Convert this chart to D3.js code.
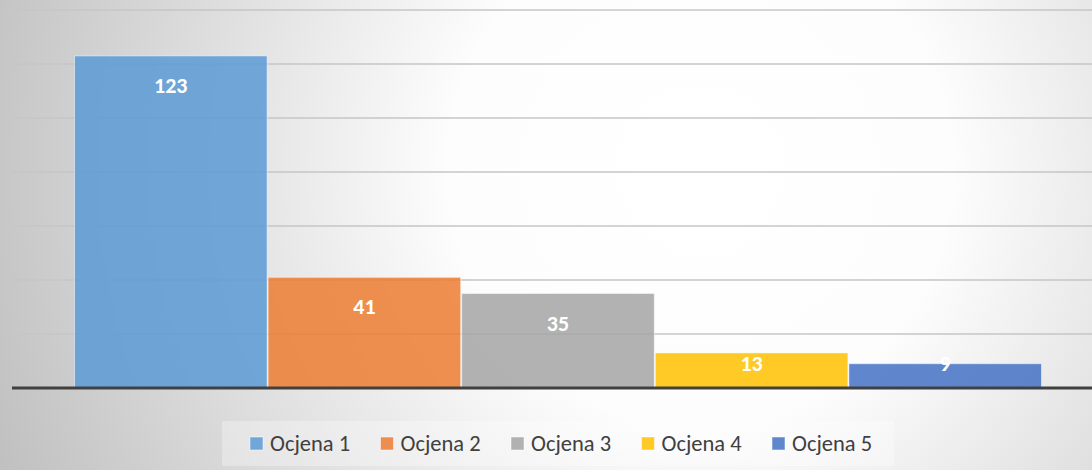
<!DOCTYPE html>
<html>
<head>
<meta charset="utf-8">
<script src="https://cdn.jsdelivr.net/npm/d3@7"></script>
<style>
  html, body { margin: 0; padding: 0; }
  body { width: 1092px; height: 470px; overflow: hidden; }
  text { font-family: Carlito, Calibri, Lato, "Open Sans", sans-serif; }
</style>
</head>
<body>
<div class="container"></div>
<script>
var series = ["Ocjena 1", "Ocjena 2", "Ocjena 3", "Ocjena 4", "Ocjena 5"];
var values = [123, 41, 35, 13, 9];
var colors = ["#5b9bd5", "#ed7d31", "#a5a5a5", "#ffc000", "#4472c4"];
var gridTicks = [0, 20, 40, 60, 80, 100, 120, 140];

var W = 1092, H = 470;

var svg = d3.select('.container').append('svg')
  .attr("width", W)
  .attr("height", H);

// background: light centre, gray edges
var grad = svg.append("defs").append("radialGradient")
  .attr("id", "bg")
  .attr("gradientUnits", "userSpaceOnUse")
  .attr("cx", 700).attr("cy", 170).attr("r", 760);
grad.append("stop").attr("offset", "0").attr("stop-color", "#ffffff");
grad.append("stop").attr("offset", "0.33").attr("stop-color", "#fdfdfd");
grad.append("stop").attr("offset", "0.62").attr("stop-color", "#e2e2e2");
grad.append("stop").attr("offset", "1").attr("stop-color", "#c0c0c0");

svg.append("rect").attr("width", W).attr("height", H).attr("fill", "url(#bg)");

var y = d3.scaleLinear().domain([0, 140]).range([388, 10]);
var x = d3.scaleBand().domain(series).range([74, 1042]).padding(0);

// gridlines
svg.append("g").selectAll("line")
  .data(gridTicks.slice(1)).enter()
  .append("line")
  .attr("x1", 12).attr("x2", W)
  .attr("y1", function(d){ return y(d); })
  .attr("y2", function(d){ return y(d); })
  .attr("stroke", "#c6c6c6")
  .attr("stroke-width", 1.5);

// bars
svg.append("g").selectAll("rect")
  .data(values).enter()
  .append("rect")
  .attr("x", function(d, i){ return x(series[i]) + 0.5; })
  .attr("y", function(d){ return y(d); })
  .attr("width", x.bandwidth() - 1)
  .attr("height", function(d){ return y(0) - y(d); })
  .attr("fill", function(d, i){ return colors[i]; })
  .attr("fill-opacity", 0.85)
  .attr("stroke", "#ffffff")
  .attr("stroke-opacity", 0.5)
  .attr("stroke-width", 1);

// baseline
svg.append("line")
  .attr("x1", 12).attr("x2", W)
  .attr("y1", y(0)).attr("y2", y(0))
  .attr("stroke", "#404040")
  .attr("stroke-width", 3);

// value labels
svg.append("g").selectAll("text")
  .data(values).enter()
  .append("text")
  .attr("x", function(d, i){ return x(series[i]) + x.bandwidth() / 2; })
  .attr("y", function(d){ return Math.min(y(d) + 29, y(0) - 25) + 8; })
  .attr("text-anchor", "middle")
  .attr("fill", "#ffffff")
  .attr("font-weight", "bold")
  .attr("font-size", "22px")
  .text(function(d){ return d; });

// legend
var legend = svg.append("g");
legend.append("rect")
  .attr("x", 222).attr("y", 421)
  .attr("width", 672).attr("height", 45)
  .attr("fill", "#ffffff").attr("fill-opacity", 0.3);

var item = legend.selectAll("g.item")
  .data(series).enter()
  .append("g")
  .attr("class", "item")
  .attr("transform", function(d, i){ return "translate(" + (250 + i * 130.5) + ",437)"; });

item.append("rect")
  .attr("width", 13).attr("height", 13)
  .attr("fill", function(d, i){ return colors[i]; })
  .attr("fill-opacity", 0.85)
  .attr("stroke", "#ffffff").attr("stroke-opacity", 0.5);

item.append("text")
  .attr("x", 20).attr("y", 14)
  .attr("fill", "#404040")
  .attr("font-size", "22.5px")
  .text(function(d){ return d; });
</script>
</body>
</html>
